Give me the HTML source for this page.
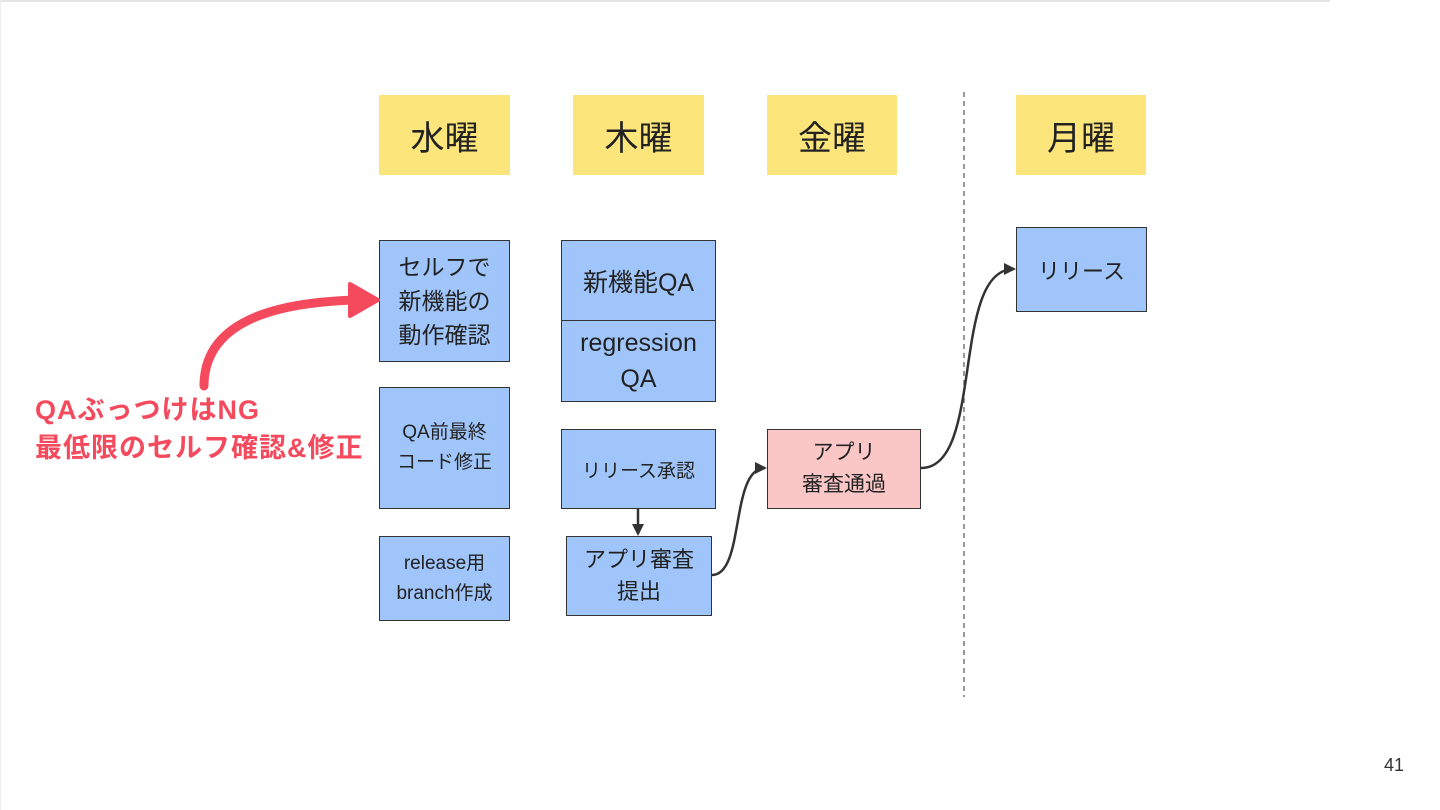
<!DOCTYPE html>
<html><head><meta charset="utf-8"><style>
html,body{margin:0;padding:0;background:#fff;}
body{width:1440px;height:810px;position:relative;overflow:hidden;font-family:"Liberation Sans","Noto Sans CJK JP",sans-serif;}
.b{position:absolute;box-sizing:border-box;display:flex;align-items:center;justify-content:center;text-align:center;color:#222;}
.y{background:#fce67c;font-size:34px;}
.bl{background:#9fc5fb;border:1.5px solid #333;}
.pk{background:#fbc6c6;border:1.5px solid #333;}
</style></head><body>
<div style="position:absolute;left:0;top:0;width:1330px;height:2px;background:#e4e4e4"></div>
<div style="position:absolute;left:0;top:0;width:1px;height:810px;background:#eee"></div>
<div class="b y" style="left:379px;top:95px;width:131px;height:80px">水曜</div>
<div class="b y" style="left:573px;top:95px;width:131px;height:80px">木曜</div>
<div class="b y" style="left:767px;top:95px;width:130px;height:80px">金曜</div>
<div class="b y" style="left:1016px;top:95px;width:130px;height:80px">月曜</div>
<div class="b bl" style="left:379px;top:240px;width:131px;height:122px;font-size:23px;line-height:34px">セルフで<br>新機能の<br>動作確認</div>
<div class="b bl" style="left:379px;top:387px;width:131px;height:122px;font-size:19px;line-height:30px">QA前最終<br>コード修正</div>
<div class="b bl" style="left:379px;top:536px;width:131px;height:85px;font-size:19px;line-height:30px">release用<br>branch作成</div>
<div class="b bl" style="left:561px;top:240px;width:155px;height:82px;font-size:25px">新機能QA</div>
<div class="b bl" style="left:561px;top:320px;width:155px;height:82px;font-size:25px;line-height:36px">regression<br>QA</div>
<div class="b bl" style="left:561px;top:429px;width:155px;height:80px;font-size:19px">リリース承認</div>
<div class="b bl" style="left:566px;top:536px;width:146px;height:80px;font-size:22px;line-height:32px">アプリ審査<br>提出</div>
<div class="b pk" style="left:767px;top:429px;width:154px;height:80px;font-size:21px;line-height:32px">アプリ<br>審査通過</div>
<div class="b bl" style="left:1016px;top:227px;width:131px;height:85px;font-size:22px">リリース</div>
<svg width="1440" height="810" style="position:absolute;left:0;top:0">
<defs>
<marker id="a" markerWidth="12" markerHeight="12" refX="10" refY="6" orient="auto" markerUnits="userSpaceOnUse"><path d="M0,0 L12,6 L0,12 z" fill="#333"/></marker>
</defs>
<line x1="964" y1="92" x2="964" y2="697" stroke="#777" stroke-width="1.5" stroke-dasharray="5,4"/>
<path d="M638,509 L638,534" stroke="#333" stroke-width="2.5" fill="none" marker-end="url(#a)"/>
<path d="M712,575 C745,575 730,468 765,468" stroke="#333" stroke-width="2.5" fill="none" marker-end="url(#a)"/>
<path d="M921,468 C985,468 950,269 1014,269" stroke="#333" stroke-width="2.5" fill="none" marker-end="url(#a)"/>
<path d="M204,386 C204,315 290,302 356,300" stroke="#f54a5e" stroke-width="9" fill="none" stroke-linecap="round"/>
<path d="M350,284 L378,300 L350,316 z" fill="#f54a5e" stroke="#f54a5e" stroke-width="4" stroke-linejoin="round"/>
</svg>
<div style="position:absolute;left:35px;top:391px;font-size:27px;font-weight:bold;color:#f54a5e;line-height:38px;white-space:nowrap;letter-spacing:1px">QAぶっつけはNG<br>最低限のセルフ確認&amp;修正</div>
<div style="position:absolute;left:1384px;top:755px;font-size:18px;color:#333">41</div>
</body></html>
